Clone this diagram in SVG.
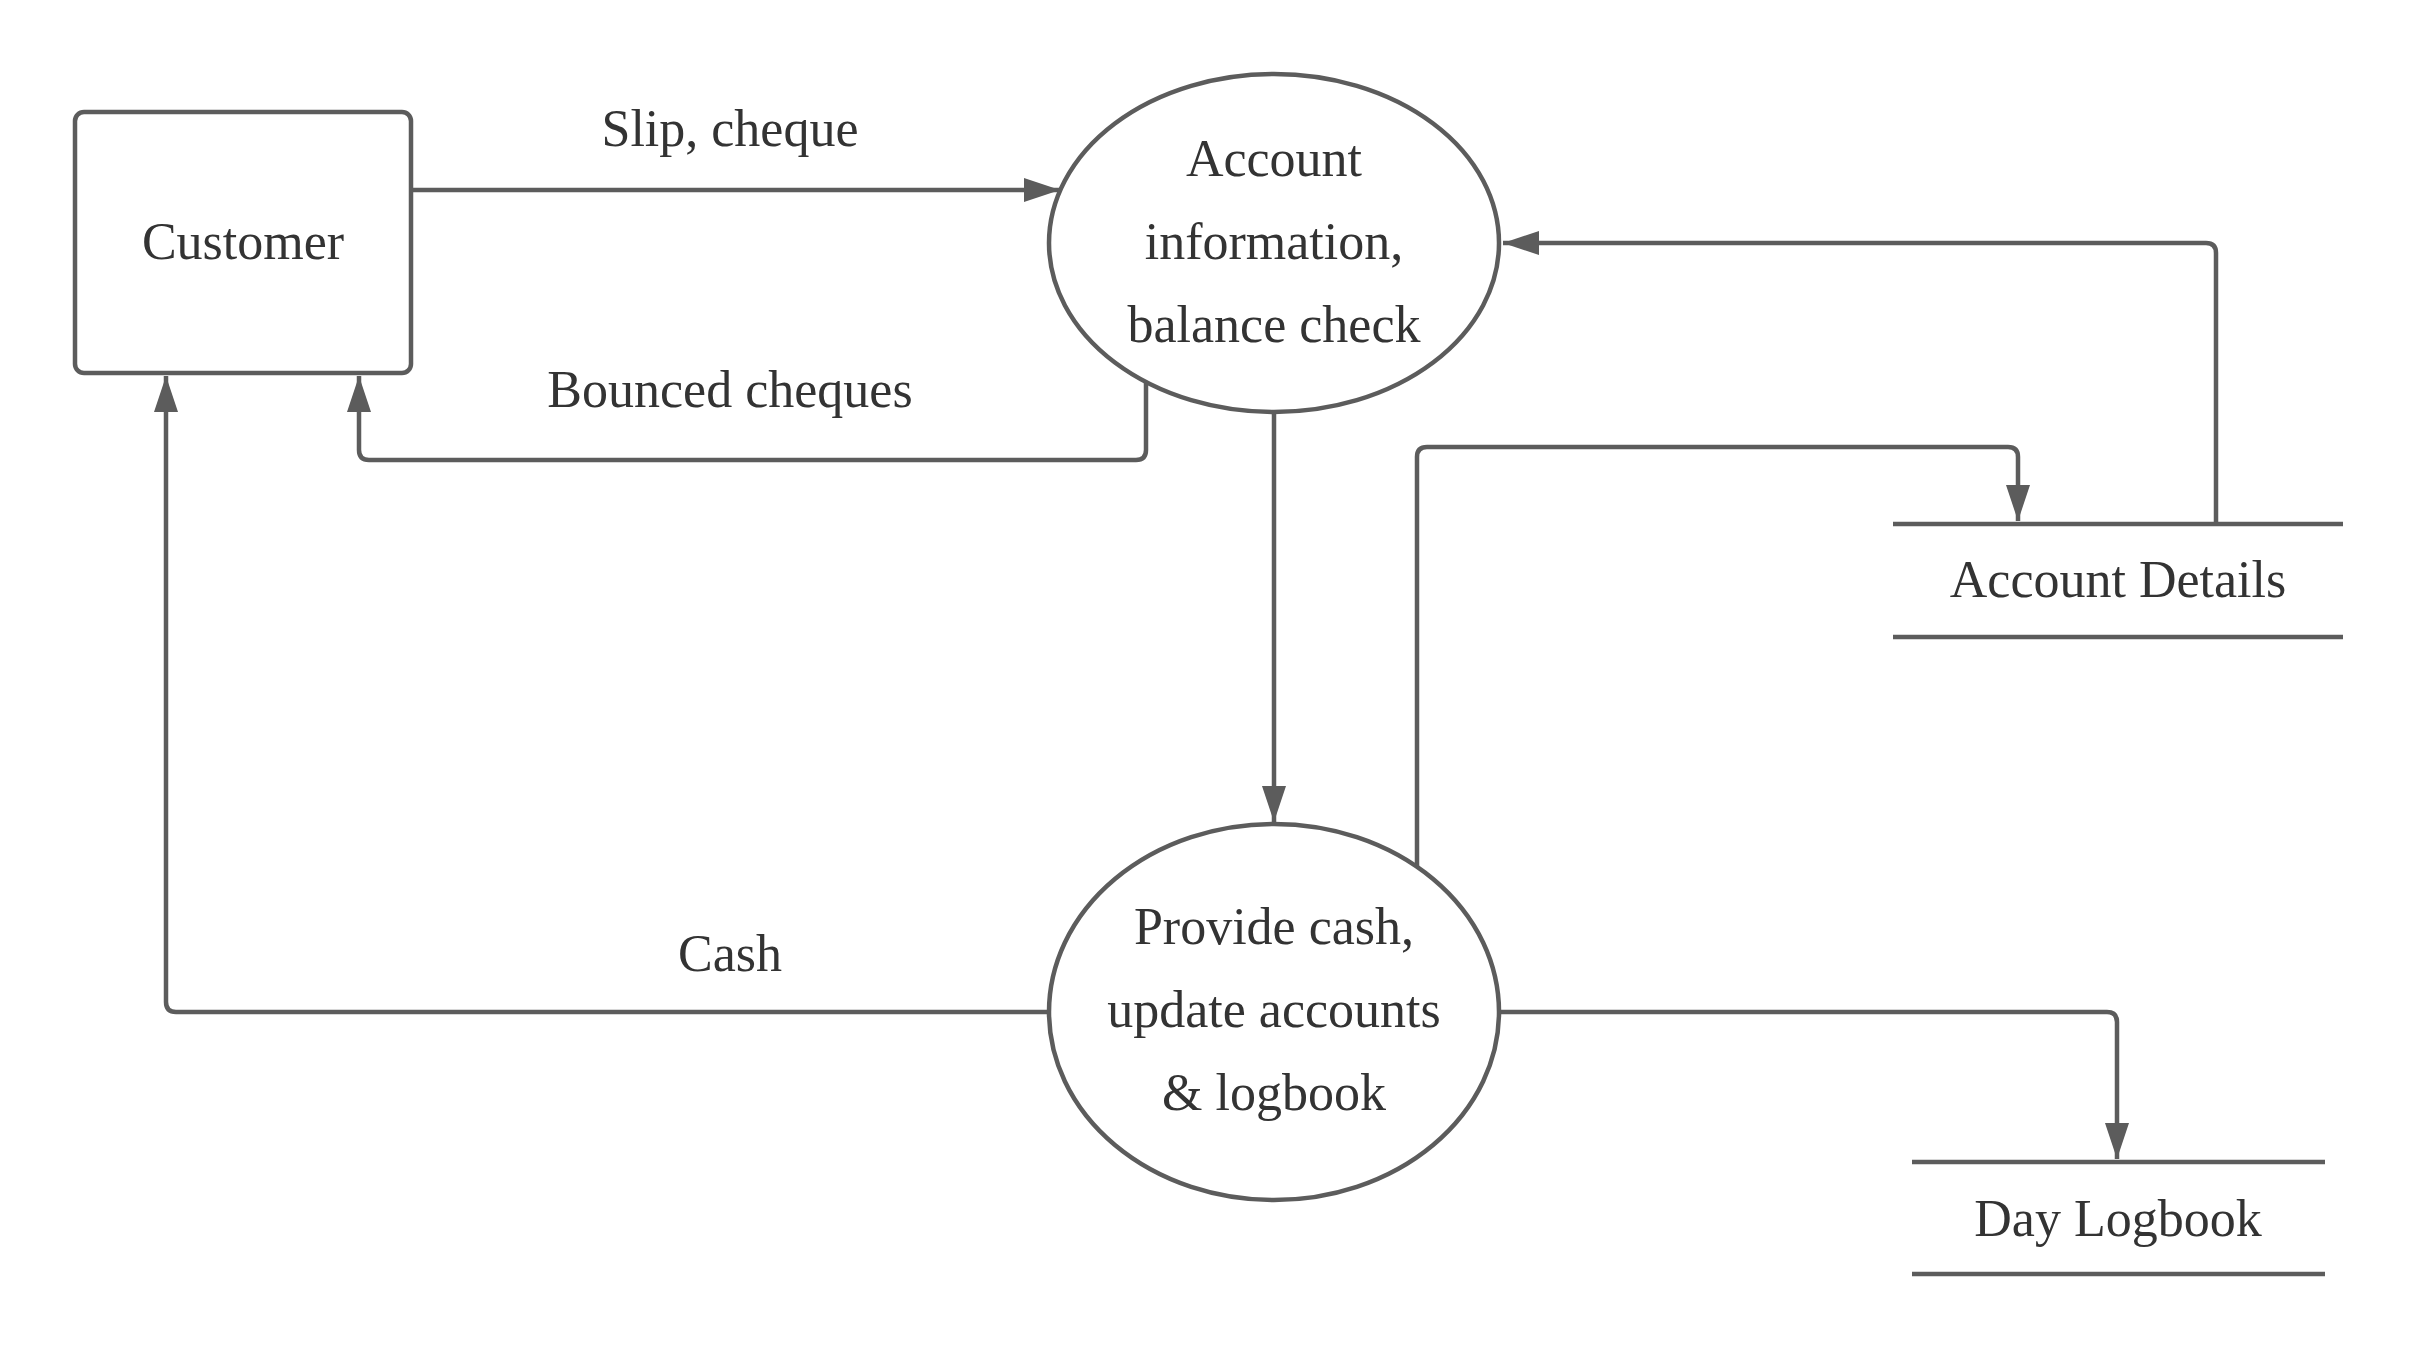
<svg xmlns="http://www.w3.org/2000/svg" width="2419" height="1350" viewBox="0 0 2419 1350">
<style>
.shape{fill:#ffffff;stroke:#5c5c5c;stroke-width:4.5}
.store{stroke:#5c5c5c;stroke-width:4.5;fill:none}
.conn{fill:none;stroke:#5c5c5c;stroke-width:4.5;marker-end:url(#arr)}
text{font-family:"Liberation Serif","Times New Roman",serif;font-size:52px;fill:#333333;text-anchor:middle}
</style>
<defs>
<marker id="arr" markerUnits="userSpaceOnUse" markerWidth="38" markerHeight="26" refX="36" refY="12" orient="auto">
<path d="M0,0 L36,12 L0,24 Z" fill="#5c5c5c"/>
</marker>
</defs>
<rect width="2419" height="1350" fill="#ffffff"/>
<g id="connectors">
<path class="conn" d="M411,190 H1060"/>
<path class="conn" d="M1146,382 V450 Q1146,460 1136,460 H369 Q359,460 359,450 V376"/>
<path class="conn" d="M2216,524 V253 Q2216,243 2206,243 H1503"/>
<path class="conn" d="M1274,412 V822"/>
<path class="conn" d="M1417,867 V457 Q1417,447 1427,447 H2008 Q2018,447 2018,457 V521"/>
<path class="conn" d="M1049,1012 H176 Q166,1012 166,1002 V376"/>
<path class="conn" d="M1499,1012 H2107 Q2117,1012 2117,1022 V1159"/>
</g>
<g id="labels">
<text x="730" y="146">Slip, cheque</text>
<text x="730" y="407">Bounced cheques</text>
<text x="730" y="971">Cash</text>
</g>
<g id="customer">
<rect class="shape" x="75" y="112" width="336" height="261" rx="9"/>
<text x="243" y="259">Customer</text>
</g>
<g id="account-check">
<ellipse class="shape" cx="1274" cy="243" rx="225" ry="169"/>
<text x="1274" y="176">Account</text>
<text x="1274" y="259">information,</text>
<text x="1274" y="342">balance check</text>
</g>
<g id="provide-cash">
<ellipse class="shape" cx="1274" cy="1012" rx="225" ry="188"/>
<text x="1274" y="944">Provide cash,</text>
<text x="1274" y="1027">update accounts</text>
<text x="1274" y="1110">&amp; logbook</text>
</g>
<g id="account-details">
<line class="store" x1="1893" y1="524" x2="2343" y2="524"/>
<line class="store" x1="1893" y1="637" x2="2343" y2="637"/>
<text x="2118" y="597">Account Details</text>
</g>
<g id="day-logbook">
<line class="store" x1="1912" y1="1162" x2="2325" y2="1162"/>
<line class="store" x1="1912" y1="1274" x2="2325" y2="1274"/>
<text x="2118" y="1236">Day Logbook</text>
</g>
</svg>
